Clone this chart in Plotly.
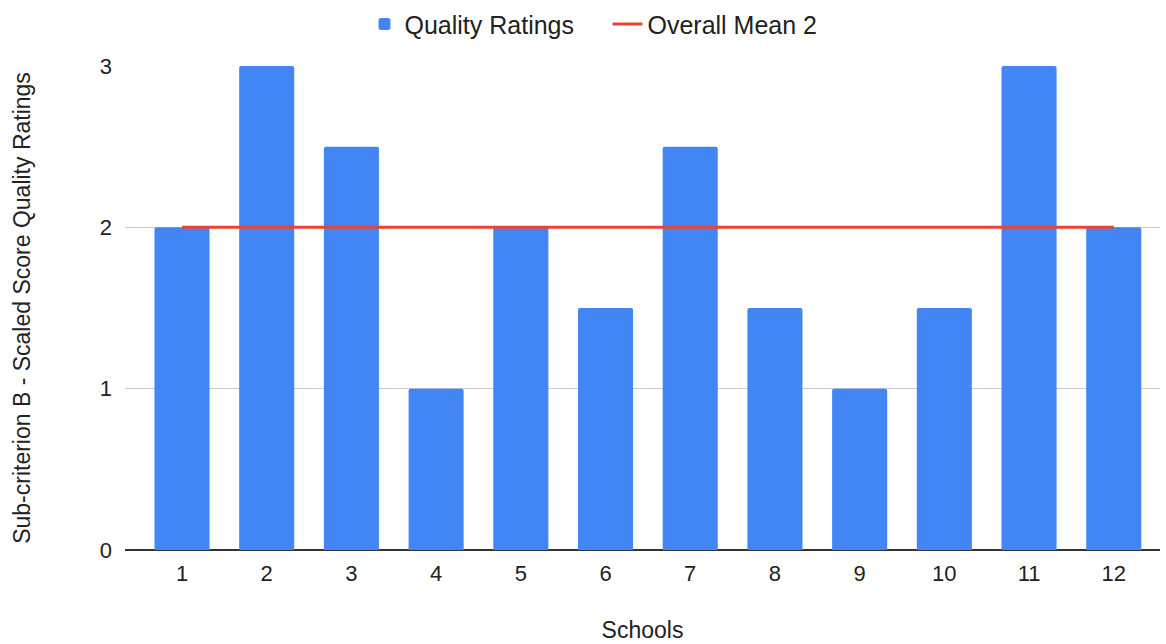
import plotly.graph_objects as go

schools = list(range(1, 13))
ratings = [2, 3, 2.5, 1, 2, 1.5, 2.5, 1.5, 1, 1.5, 3, 2]
overall_mean = 2
mean_label = "Overall Mean 2"

FONT = "Liberation Sans, Arial, sans-serif"
TEXT = "#222222"

fig = go.Figure()
fig.add_trace(go.Bar(
    x=schools, y=ratings, name="Quality Ratings",
    marker=dict(color="#4285F4", line=dict(width=0), cornerradius=2),
))
fig.add_trace(go.Scatter(
    x=[schools[0], schools[-1]], y=[overall_mean, overall_mean],
    mode="lines", name=mean_label,
    line=dict(color="#EA4335", width=3),
))

fig.update_layout(
    width=1166, height=644,
    margin=dict(l=125, r=6, t=66, b=91),
    paper_bgcolor="white", plot_bgcolor="white",
    bargap=0.35,
    font=dict(family=FONT, size=22, color=TEXT),
    showlegend=True,
    legend=dict(orientation="h", x=0.521, xanchor="center", y=0.998, yanchor="top",
                xref="container", yref="container",
                font=dict(size=25, color=TEXT), itemwidth=30,
                entrywidth=198, entrywidthmode="pixels"),
)

fig.update_xaxes(
    range=[0.327, 12.546], tickmode="array", tickvals=schools,
    ticktext=[str(s) for s in schools],
    showgrid=False, zeroline=False, showline=False,
    ticks="", ticklabelstandoff=8,
    title=dict(text="Schools", font=dict(size=23, color=TEXT), standoff=36),
)
fig.update_yaxes(
    range=[0, 3], tickvals=[0, 1, 2, 3],
    showgrid=True, gridcolor="#CCCCCC", gridwidth=1,
    zeroline=True, zerolinecolor="#333333", zerolinewidth=2,
    showline=False, ticks="", ticklabelstandoff=12,
    title=dict(text="Sub-criterion B - Scaled Score Quality Ratings",
               font=dict(size=23, color=TEXT), standoff=62),
)

fig.write_html("out.html")
